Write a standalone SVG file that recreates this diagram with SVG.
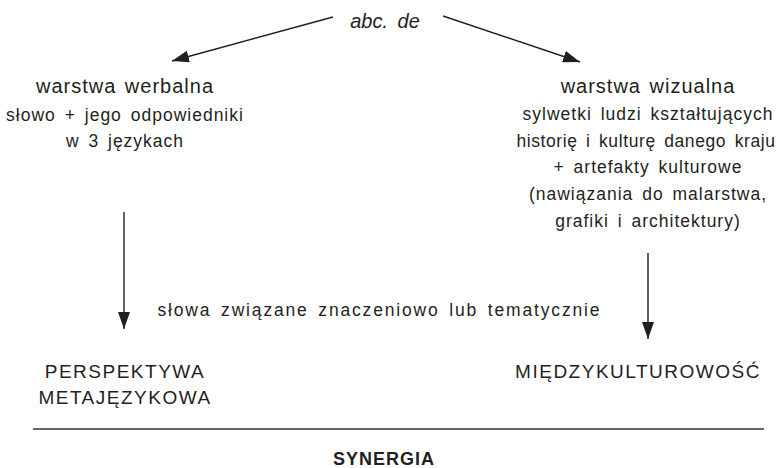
<svg xmlns="http://www.w3.org/2000/svg" width="781" height="468" viewBox="0 0 781 468">
<style>
text{font-family:"Liberation Sans",Arial,sans-serif;fill:#231f20;text-anchor:middle}
.h{font-size:20px;letter-spacing:1px;word-spacing:2px}
.s{font-size:17.5px;letter-spacing:1px;word-spacing:3px}
.c{font-size:19px;letter-spacing:1.5px}
.t{font-size:20px;font-style:italic;word-spacing:4px}
.b{font-size:18px;font-weight:bold;letter-spacing:1px}
.ln{stroke:#231f20;stroke-width:1.4;fill:none}
</style>
<defs>
<marker id="ah" markerUnits="userSpaceOnUse" markerWidth="18" markerHeight="12" refX="17" refY="6" orient="auto">
<path d="M0,0 L17,6 L0,12 Z" fill="#231f20"/>
</marker>
</defs>
<g id="root"><text class="t" x="385" y="28">abc. de</text></g>
<g id="werbalna">
<text class="h" x="125" y="93">warstwa werbalna</text>
<text class="s" x="125" y="121">słowo + jego odpowiedniki</text>
<text class="s" x="125" y="147">w 3 językach</text>
</g>
<g id="wizualna">
<text class="h" x="648" y="93">warstwa wizualna</text>
<text class="s" x="648" y="120">sylwetki ludzi kształtujących</text>
<text class="s" x="646" y="147" style="letter-spacing:0.6px">historię i kulturę danego kraju</text>
<text class="s" x="648" y="173">+ artefakty kulturowe</text>
<text class="s" x="648" y="200">(nawiązania do malarstwa,</text>
<text class="s" x="648" y="227">grafiki i architektury)</text>
</g>
<g id="relacja"><text class="s" x="379" y="316" textLength="443">słowa związane znaczeniowo lub tematycznie</text></g>
<g id="perspektywa">
<text class="c" x="125" y="378">PERSPEKTYWA</text>
<text class="c" x="125" y="404">METAJĘZYKOWA</text>
</g>
<g id="miedzykulturowosc"><text class="c" x="638" y="378">MIĘDZYKULTUROWOŚĆ</text></g>
<g id="synergia"><text class="b" x="384" y="465">SYNERGIA</text></g>
<g id="connectors">
<line class="ln" x1="333" y1="17" x2="172" y2="61" marker-end="url(#ah)"/>
<line class="ln" x1="443" y1="16" x2="580" y2="62" marker-end="url(#ah)"/>
<line class="ln" x1="124" y1="212" x2="124" y2="329" marker-end="url(#ah)"/>
<line class="ln" x1="648" y1="253" x2="648" y2="339" marker-end="url(#ah)"/>
<line x1="33" y1="429" x2="764" y2="429" stroke="#333" stroke-width="1.6"/>
</g>
</svg>
